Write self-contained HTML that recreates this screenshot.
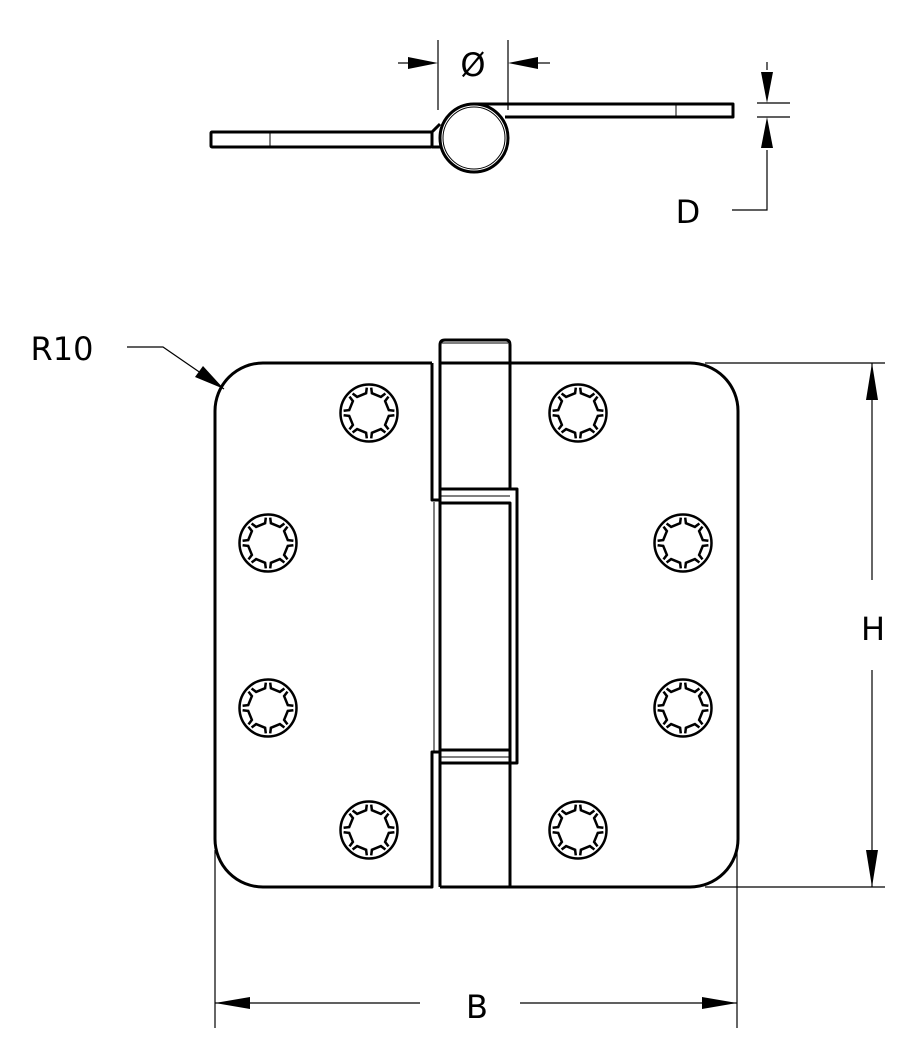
<!DOCTYPE html>
<html><head><meta charset="utf-8"><style>
html,body{margin:0;padding:0;background:#fff;}
svg{display:block;}
text{font-family:"DejaVu Sans","Liberation Sans",sans-serif;fill:#000;}
</style></head><body>
<svg id="s" width="922" height="1039" viewBox="0 0 922 1039" xmlns="http://www.w3.org/2000/svg">
<g fill="none" stroke="#000" stroke-width="3" stroke-linejoin="round">
<rect x="211" y="132" width="221" height="15" rx="1"/>
<line x1="270" y1="132" x2="270" y2="147" stroke-width="1"/>
<path d="M432 132 L440 124 M432 147 L440 147"/>
<circle cx="474" cy="138" r="34"/>
<circle cx="474" cy="138" r="31" stroke-width="1"/>
<path d="M474 104 L733 104 L733 117 L505 117"/>
<line x1="676" y1="104" x2="676" y2="117" stroke-width="1"/>
</g>
<g stroke="#000" stroke-width="1.2" fill="none">
<line x1="438" y1="40" x2="438" y2="110"/>
<line x1="508" y1="40" x2="508" y2="110"/>
<line x1="398" y1="63" x2="410" y2="63"/>
<line x1="535" y1="63" x2="550" y2="63"/>
<line x1="767" y1="62" x2="767" y2="70"/>
<line x1="757" y1="103" x2="790" y2="103"/>
<line x1="757" y1="117" x2="790" y2="117"/>
<polyline points="767,150 767,210 732,210"/>
<polyline points="127,347 163,347 224,389"/>
<line x1="705" y1="363" x2="885" y2="363"/>
<line x1="705" y1="887" x2="885" y2="887"/>
<line x1="872" y1="363" x2="872" y2="580"/>
<line x1="872" y1="670" x2="872" y2="887"/>
<line x1="215" y1="850" x2="215" y2="1028"/>
<line x1="737" y1="850" x2="737" y2="1028"/>
<line x1="215" y1="1003" x2="420" y2="1003"/>
<line x1="520" y1="1003" x2="737" y2="1003"/>
</g>
<g fill="#000">
<polygon points="438,63 408,57 408,69"/>
<polygon points="508,63 538,57 538,69"/>
<polygon points="767,103 761,72 773,72"/>
<polygon points="767,117 761,148 773,148"/>
<polygon points="224,389 195,377 203,366"/>
<polygon points="872,363 866,400 878,400"/>
<polygon points="872,887 866,850 878,850"/>
<polygon points="215,1003 250,997 250,1009"/>
<polygon points="737,1003 702,997 702,1009"/>
</g>
<g font-size="32">
<text x="473" y="76" text-anchor="middle">Ø</text>
<text x="688" y="223" text-anchor="middle">D</text>
<text x="62" y="360" text-anchor="middle">R10</text>
<text x="873" y="640" text-anchor="middle">H</text>
<text x="477" y="1018" text-anchor="middle">B</text>
</g>
<g fill="none" stroke="#000" stroke-width="3" stroke-linejoin="round">
<path d="M432 363 L263 363 A48 48 0 0 0 215 411 L215 839 A48 48 0 0 0 263 887 L432 887 L432 752 L440 752"/>
<path d="M432 363 L432 500 L440 500"/>
<path d="M510 363 L690 363 A48 48 0 0 1 738 411 L738 839 A48 48 0 0 1 690 887 L510 887"/>
<path d="M440 887 L440 345 Q440 340 445 340 L506 340 Q510 340 510 345 L510 489"/>
<path d="M440 363 L510 363"/>
<path d="M440 489 L517 489 L517 763 L510 763 L510 887"/>
<path d="M440 763 L510 763"/>
<path d="M440 503 L510 503 L510 763"/>
<path d="M440 750 L510 750"/>
<line x1="440" y1="887" x2="510" y2="887"/>
</g>
<g fill="none" stroke="#000" stroke-width="1">
<line x1="442" y1="343" x2="508" y2="343"/>
<line x1="440" y1="496" x2="510" y2="496"/>
<line x1="440" y1="757" x2="510" y2="757"/>
<line x1="434" y1="502" x2="434" y2="752"/>
</g>
<g id="screws" fill="none" stroke="#000" stroke-width="2.5"></g>
</svg>
<script>
var pts=[[369,413],[578,413],[268,543],[683,543],[268,708],[683,708],[369,830],[578,830]];
var g=document.getElementById('screws'),h='';
pts.forEach(function(p){
 var cx=p[0],cy=p[1];
 h+='<circle cx="'+cx+'" cy="'+cy+'" r="28.5"/>';
 for(var i=0;i<8;i++){
  var a0=(i*45+5)*Math.PI/180,a1=(i*45+40)*Math.PI/180,r1=20,r2=25.5;
  function P(r,a){return (cx+r*Math.cos(a)).toFixed(1)+' '+(cy+r*Math.sin(a)).toFixed(1);}
  h+='<path d="M'+P(r2,a0)+' L'+P(r1,a0+0.06)+' L'+P(r1,a1-0.06)+' L'+P(r2,a1)+'"/>';
 }
});
g.innerHTML=h;
</script>
</body></html>
